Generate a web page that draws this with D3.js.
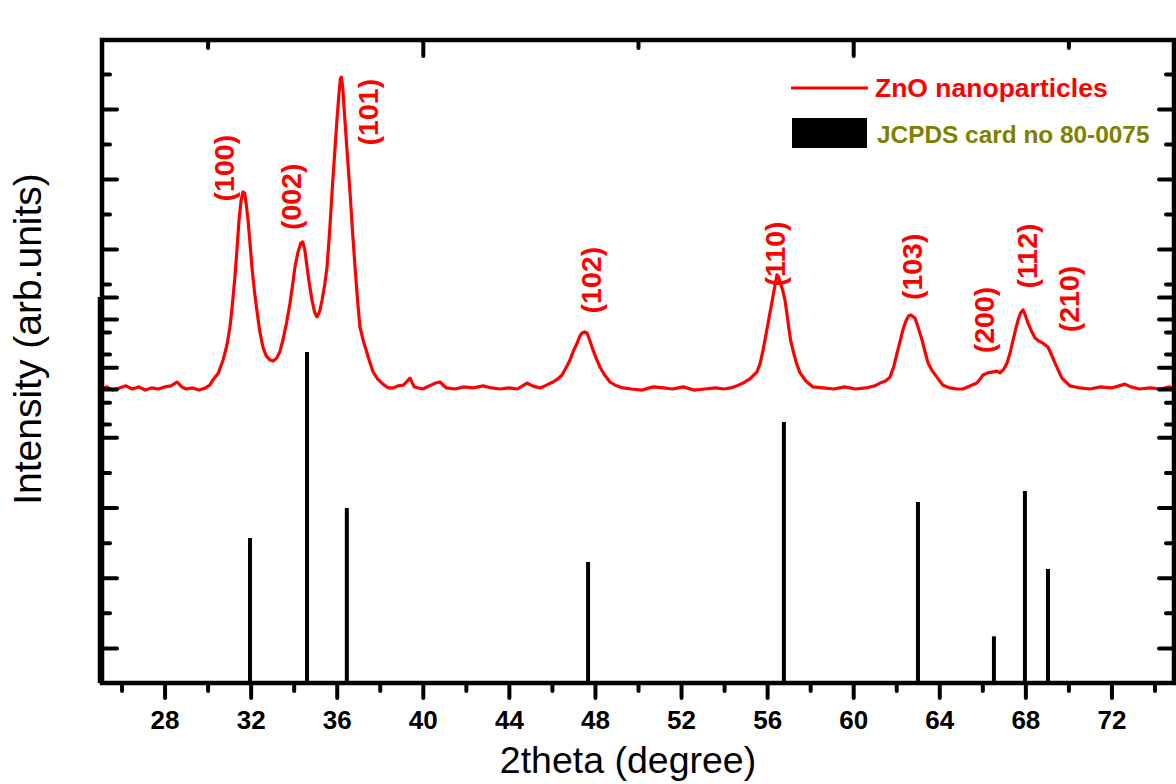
<!DOCTYPE html>
<html>
<head>
<meta charset="utf-8">
<script src="https://cdn.jsdelivr.net/npm/d3@7"></script>
<style>
  html, body { margin: 0; padding: 0; background: #fff; }
  svg { display: block; font-family: "Liberation Sans", Arial, sans-serif; }
</style>
</head>
<body>
<div id="chart"></div>
<script>
// measured pattern, [2theta, counts]
const znoPattern = [
  [25.0,200],[25.3,206],[25.6,197],[25.9,203],[26.2,209],[26.5,200],[26.8,206],[27.1,197],[27.4,203],[27.7,200],
  [28.0,206],[28.3,209],[28.58,220],[28.8,206],[29.0,200],[29.3,203],[29.6,197],[29.9,203],[30.1,211],[30.25,226],
  [30.5,246],[30.72,283],[30.9,326],[31.04,377],[31.15,440],[31.27,520],[31.37,603],[31.46,683],[31.56,740],[31.65,763],
  [31.72,760],[31.8,726],[31.88,683],[31.97,617],[32.06,549],[32.18,477],[32.3,420],[32.43,363],[32.57,320],[32.73,294],
  [32.9,283],[33.05,280],[33.22,289],[33.37,309],[33.5,340],[33.67,389],[33.83,446],[33.95,497],[34.06,549],[34.2,591],
  [34.33,617],[34.42,620],[34.52,597],[34.62,549],[34.73,500],[34.85,454],[34.97,420],[35.08,406],[35.2,420],[35.32,454],
  [35.44,497],[35.55,549],[35.67,649],[35.78,760],[35.9,869],[36.01,969],[36.1,1040],[36.17,1086],[36.22,1091],[36.28,1060],
  [36.38,969],[36.5,863],[36.62,760],[36.73,654],[36.85,549],[36.97,454],[37.08,377],[37.25,334],[37.41,303],[37.55,274],
  [37.69,249],[37.9,229],[38.15,214],[38.4,203],[38.62,203],[38.85,209],[39.1,211],[39.41,231],[39.6,206],[39.8,203],
  [40.0,200],[40.3,209],[40.6,217],[40.8,220],[41.1,203],[41.5,200],[41.9,206],[42.3,203],[42.8,209],[43.2,203],
  [43.6,200],[44.0,203],[44.4,200],[44.84,217],[45.1,209],[45.45,203],[45.75,211],[46.05,220],[46.28,229],[46.47,240],
  [46.65,260],[46.84,283],[47.0,309],[47.17,331],[47.3,351],[47.4,360],[47.52,363],[47.63,360],[47.77,337],[47.91,311],
  [48.07,286],[48.23,263],[48.45,240],[48.7,220],[49.0,209],[49.3,203],[49.7,200],[50.2,197],[50.7,206],[51.2,203],
  [51.6,200],[52.1,206],[52.6,197],[53.1,200],[53.6,203],[54.0,200],[54.3,203],[54.6,209],[54.88,217],[55.2,229],
  [55.53,249],[55.68,274],[55.81,311],[55.97,363],[56.13,417],[56.26,460],[56.37,497],[56.46,526],[56.53,520],[56.6,506],
  [56.72,483],[56.83,454],[56.93,411],[57.02,369],[57.1,337],[57.2,311],[57.36,274],[57.53,246],[57.8,223],[58.13,206],
  [58.6,203],[59.1,200],[59.6,206],[60.1,200],[60.6,203],[61.0,209],[61.25,217],[61.5,223],[61.71,234],[61.88,263],
  [62.04,303],[62.18,337],[62.31,369],[62.45,394],[62.58,409],[62.7,411],[62.87,403],[63.03,374],[63.2,340],[63.34,306],
  [63.48,274],[63.68,251],[63.89,234],[64.17,211],[64.5,203],[64.8,200],[65.1,200],[65.45,209],[65.75,217],[65.9,229],
  [66.03,240],[66.25,246],[66.5,249],[66.68,251],[66.82,246],[67.0,257],[67.15,274],[67.3,306],[67.43,340],[67.55,371],
  [67.66,397],[67.78,417],[67.89,426],[68.0,411],[68.12,389],[68.28,366],[68.45,346],[68.62,337],[68.82,331],[69.05,320],
  [69.2,300],[69.38,274],[69.55,251],[69.7,231],[70.07,209],[70.54,203],[71.0,200],[71.5,206],[72.0,203],[72.35,209],
  [72.63,214],[72.9,206],[73.3,200],[73.8,203],[74.3,200],[74.7,206],[75.0,197]
];

// reference card lines
const cardTheta = [31.97, 34.62, 36.47, 47.68, 56.78, 63.01, 66.54, 67.98, 69.05];
const cardIntensity = [41.3, 94.3, 49.9, 34.5, 74.4, 51.6, 13.3, 54.7, 32.5];

// hkl annotations, anchored in data units (2theta, counts)
const hklLabels = ['(100)', '(002)', '(101)', '(102)', '(110)', '(103)', '(200)', '(112)', '(210)'];
const hklTheta = [30.76, 33.88, 37.45, 47.82, 56.37, 62.73, 66.08, 68.08, 70.03];
const hklCounts = [831, 749, 991, 511, 586, 549, 397, 580, 457];

// axis ticks
const xMajor = d3.range(28, 73, 4);
const xMinor = d3.range(26, 75, 4);
const xTopMajor = [40, 60];
const xTopMinor = [30, 50, 70];
const refMajor = [10, 30, 50, 70, 90, 110];
const refMinor = [20, 40, 60, 80, 100];
const xrdMajor = [200, 400, 600, 800, 1000];
const xrdMinor = [100, 300, 500, 700, 900, 1100];

const width = 1176, height = 784;
const frame = { left: 102, right: 1174, top: 40, bottom: 683 };

const svg = d3.select('#chart').append('svg')
    .attr('width', width)
    .attr('height', height);

svg.append('rect').attr('width', width).attr('height', height).attr('fill', '#fff');

const x = d3.scaleLinear().domain([25, 75]).range([100, 1176]);
// lower layer (card lines) and upper layer (measured curve) share the frame
const yRef = d3.scaleLinear().domain([0, 110]).range([683, 297]);
const yXrd = d3.scaleLinear().domain([0, 1200]).range([459, 39]);

// card sticks
svg.append('g').selectAll('line')
    .data(cardTheta)
    .join('line')
    .attr('x1', d => x(d))
    .attr('x2', d => x(d))
    .attr('y1', yRef(0))
    .attr('y2', (d, i) => yRef(cardIntensity[i]))
    .attr('stroke', '#000')
    .attr('stroke-width', 4);

// measured curve
const line = d3.line()
    .x(d => x(d[0]))
    .y(d => yXrd(d[1]));

svg.append('path')
    .datum(znoPattern)
    .attr('d', line)
    .attr('fill', 'none')
    .attr('stroke', '#ff0000')
    .attr('stroke-width', 3.2)
    .attr('stroke-linejoin', 'round');

// hkl labels
svg.append('g').selectAll('text')
    .data(hklLabels)
    .join('text')
    .attr('transform', (d, i) => `translate(${x(hklTheta[i])},${yXrd(hklCounts[i])}) rotate(-90)`)
    .attr('text-anchor', 'middle')
    .attr('dy', '0.35em')
    .attr('fill', '#ff0000')
    .attr('font-weight', 'bold')
    .attr('font-size', 28.5)
    .text(d => d);

// axes helper
function drawAxis(axis, tx, ty, size) {
    const g = svg.append('g')
        .attr('transform', `translate(${tx},${ty})`)
        .call(axis.tickSize(size));
    g.select('.domain').remove();
    g.selectAll('.tick line')
        .attr('stroke', '#000')
        .attr('stroke-width', 4)
        .attr('stroke-linecap', 'round');
    return g;
}

const noLabel = () => '';

const xAxis = drawAxis(d3.axisBottom(x).tickValues(xMajor).tickPadding(13), 0, frame.bottom, 15);
xAxis.selectAll('text')
    .attr('font-size', 26)
    .attr('font-weight', 'bold')
    .attr('font-family', '"Liberation Sans", Arial, sans-serif')
    .attr('fill', '#000');
drawAxis(d3.axisBottom(x).tickValues(xMinor).tickFormat(noLabel), 0, frame.bottom, 8);

drawAxis(d3.axisTop(x).tickValues(xTopMajor).tickFormat(noLabel), 0, frame.top, -16);
drawAxis(d3.axisTop(x).tickValues(xTopMinor).tickFormat(noLabel), 0, frame.top, -8);

[[yRef, refMajor, refMinor], [yXrd, xrdMajor, xrdMinor]].forEach(([scale, major, minor]) => {
    drawAxis(d3.axisLeft(scale).tickValues(major).tickFormat(noLabel), frame.left, 0, -15);
    drawAxis(d3.axisLeft(scale).tickValues(minor).tickFormat(noLabel), frame.left, 0, -8);
    drawAxis(d3.axisRight(scale).tickValues(major).tickFormat(noLabel), frame.right, 0, -15);
    drawAxis(d3.axisRight(scale).tickValues(minor).tickFormat(noLabel), frame.right, 0, -8);
});

// frame
svg.append('rect')
    .attr('x', frame.left)
    .attr('y', frame.top)
    .attr('width', frame.right - frame.left)
    .attr('height', frame.bottom - frame.top)
    .attr('fill', 'none')
    .attr('stroke', '#000')
    .attr('stroke-width', 4.5);
// lower layer's left axis sits a little further out
svg.append('line')
    .attr('x1', frame.left - 2).attr('x2', frame.left - 2)
    .attr('y1', yRef(110)).attr('y2', frame.bottom)
    .attr('stroke', '#000')
    .attr('stroke-width', 4.5);

// axis titles
svg.append('text')
    .attr('x', 628)
    .attr('y', 773)
    .attr('text-anchor', 'middle')
    .attr('font-size', 37.5)
    .text('2theta (degree)');

svg.append('text')
    .attr('transform', 'translate(41,339) rotate(-90)')
    .attr('text-anchor', 'middle')
    .attr('font-size', 39)
    .text('Intensity (arb.units)');

// legend
const legend = svg.append('g');
legend.append('line')
    .attr('x1', 791).attr('x2', 868)
    .attr('y1', 88).attr('y2', 88)
    .attr('stroke', '#ff0000')
    .attr('stroke-width', 3);
legend.append('text')
    .attr('x', 875).attr('y', 97)
    .attr('font-size', 26.5)
    .attr('font-weight', 'bold')
    .attr('fill', '#ff0000')
    .text('ZnO nanoparticles');
legend.append('rect')
    .attr('x', 792).attr('y', 118)
    .attr('width', 75).attr('height', 30)
    .attr('fill', '#000');
legend.append('text')
    .attr('x', 877).attr('y', 143)
    .attr('font-size', 24.4)
    .attr('font-weight', 'bold')
    .attr('fill', '#808000')
    .text('JCPDS card no 80-0075');
</script>
</body>
</html>
